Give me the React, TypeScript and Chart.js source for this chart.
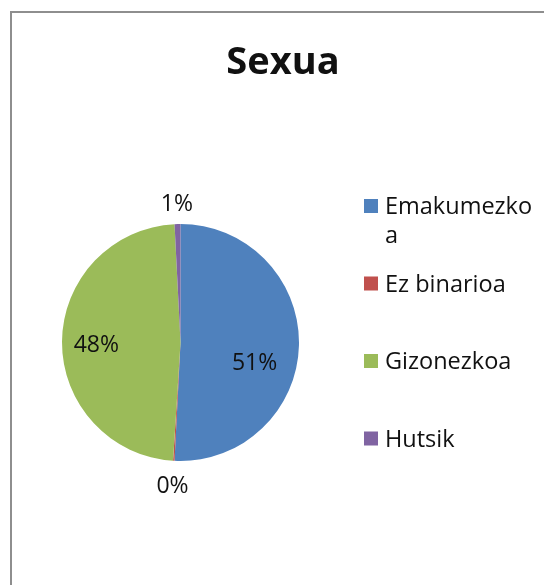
import React, { useEffect, useRef } from 'react';
import { Chart, registerables } from 'chart.js';

Chart.register(...registerables);

const TITLE = 'Sexua';
const categories = ['Emakumezkoa', 'Ez binarioa', 'Gizonezkoa', 'Hutsik'];
const shares = [50.8, 0.2, 48.2, 0.8];
const colors = ['#4F81BD', '#C0504D', '#9BBB59', '#8064A2'];

const FONT = '"Open Sans", "Liberation Sans", sans-serif';
const labelNudge = [
  [-10, 16],
  [0, 0],
  [0, 0],
  [0, 0],
];

function wrapChars(ctx: CanvasRenderingContext2D, text: string, maxW: number): string[] {
  const lines: string[] = [];
  let cur = '';
  for (const ch of text) {
    if (cur && ctx.measureText(cur + ch).width > maxW) {
      lines.push(cur);
      cur = ch;
    } else cur += ch;
  }
  if (cur) lines.push(cur);
  return lines;
}

const overlay = {
  id: 'overlay',
  afterDatasetsDraw(chart: any) {
    const ctx: CanvasRenderingContext2D = chart.ctx;
    const meta = chart.getDatasetMeta(0);
    const data = chart.data.datasets[0].data as number[];
    const bg = chart.data.datasets[0].backgroundColor as string[];
    const labels = chart.data.labels as string[];
    const total = data.reduce((a, b) => a + b, 0);
    ctx.save();
    ctx.fillStyle = '#111';
    // percentage labels
    ctx.font = `23px ${FONT}`;
    ctx.textAlign = 'center';
    ctx.textBaseline = 'middle';
    meta.data.forEach((arc: any, i: number) => {
      const p = arc.getProps(['x', 'y', 'startAngle', 'endAngle', 'outerRadius'], true);
      const mid = (p.startAngle + p.endAngle) / 2;
      const pct = (data[i] / total) * 100;
      const d = pct < 5 ? p.outerRadius + 23 : p.outerRadius * 0.71;
      const lx = p.x + Math.cos(mid) * d + labelNudge[i][0];
      const ly = p.y + Math.sin(mid) * d + labelNudge[i][1] + 3;
      ctx.fillText(`${Math.round(pct)}%`, lx, ly);
    });
    // title
    ctx.font = `bold 38px ${FONT}`;
    ctx.textBaseline = 'alphabetic';
    ctx.fillText(TITLE, 283, 74);
    // legend
    ctx.font = `23.5px ${FONT}`;
    ctx.textAlign = 'left';
    const y0 = 214;
    const gap = 77.5;
    labels.forEach((lab, i) => {
      const base = y0 + i * gap;
      ctx.fillStyle = bg[i];
      ctx.fillRect(364, base - 15, 14, 14);
      ctx.fillStyle = '#111';
      const lines = wrapChars(ctx, lab, 152);
      lines.forEach((ln, j) => ctx.fillText(ln, 385, base + j * 29));
    });
    ctx.restore();
  },
};

export default function App() {
  const ref = useRef<HTMLCanvasElement>(null);
  useEffect(() => {
    if (!ref.current) return;
    const chart = new Chart(ref.current, {
      type: 'pie',
      data: {
        labels: categories,
        datasets: [{ data: shares, backgroundColor: colors, borderWidth: 0 }],
      },
      options: {
        responsive: false,
        animation: false,
        layout: { padding: { left: 62, right: 245, top: 224, bottom: 124 } },
        plugins: {
          legend: { display: false },
          tooltip: { enabled: false },
          title: { display: false },
        },
      },
      plugins: [overlay],
    } as any);
    return () => chart.destroy();
  }, []);
  return (
    <div style={{ position: 'fixed', left: 0, top: 0, width: 544, height: 585, overflow: 'hidden', background: '#fff' }}>
      <div
        style={{
          position: 'absolute',
          left: 10,
          top: 11,
          width: 600,
          height: 640,
          border: '2px solid #8e8e8e',
          background: '#fff',
        }}
      />
      <canvas ref={ref} width={544} height={585} style={{ position: 'absolute', left: 0, top: 0 }} />
    </div>
  );
}
